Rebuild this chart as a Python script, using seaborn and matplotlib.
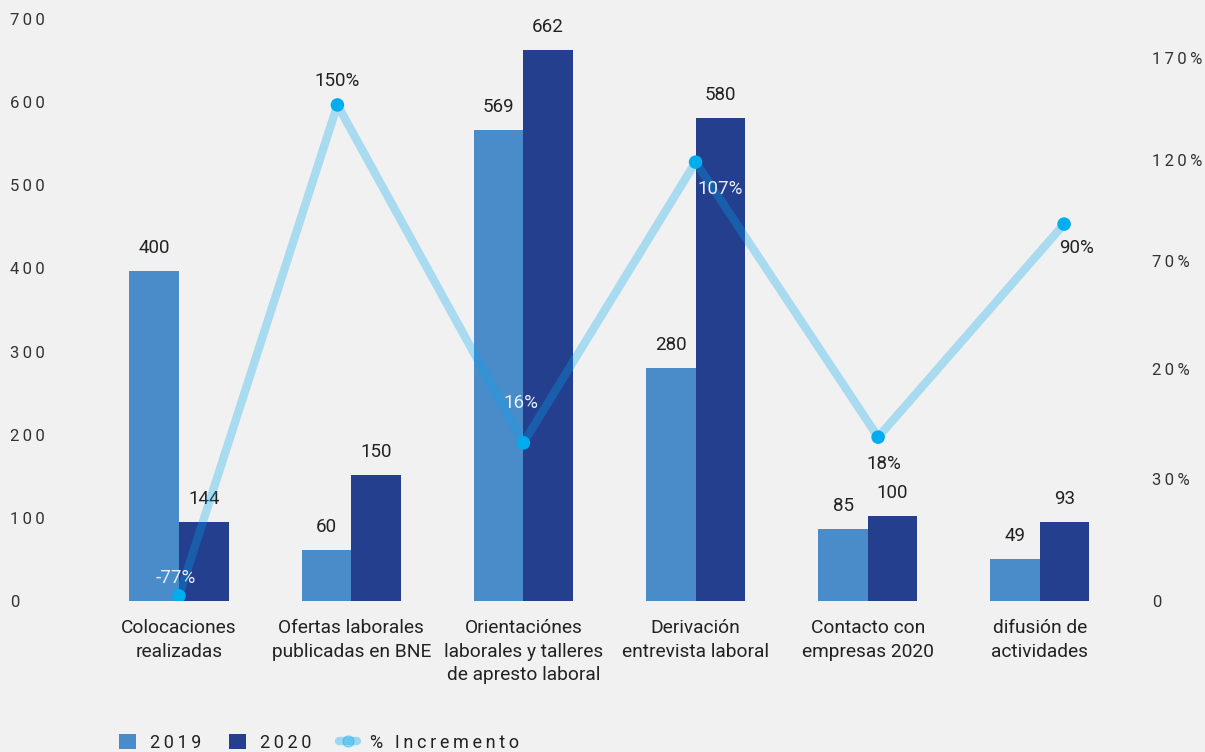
import matplotlib
matplotlib.use("Agg")
import matplotlib.pyplot as plt
from matplotlib.patches import Patch
from matplotlib.lines import Line2D
import seaborn as sns
import pandas as pd

# ---- data ----
categories = [
    "Colocaciones\nrealizadas",
    "Ofertas laborales\npublicadas en BNE",
    "Orientaciónes\nlaborales y talleres\nde apresto laboral",
    "Derivación\nentrevista laboral",
    "Contacto con\nempresas 2020",
    "difusión de\nactividades",
]
years = ["2019", "2020"]
bars_2019 = [397, 61, 567, 280, 87, 51]
bars_2020 = [95, 152, 663, 581, 102, 95]
labels_2019 = ["400", "60", "569", "280", "85", "49"]
labels_2020 = ["144", "150", "662", "580", "100", "93"]

# % increment line (heights in the right axis units, as drawn)
pct_x = [0.0, 0.92, 2.0, 3.0, 4.06, 5.14]
pct_pos = [1.6, 155.3, 49.5, 137.4, 51.3, 118.0]
pct_labels = ["-77%", "150%", "16%", "107%", "18%", "90%"]

left_ticks = [0, 100, 200, 300, 400, 500, 600, 700]
right_ticks = [0, 38.2, 72.6, 106.4, 138.1, 170]
right_tick_labels = ["0", "30%", "20%", "70%", "120%", "170%"]

# ---- style ----
BG = "#f1f1f1"
C19 = "#4a8bca"
C20 = "#243f8e"
LINE = "#00a6f0"
DOT = "#00aeef"
TXT = "#222222"

sns.set_theme(style="white")
plt.rcParams["font.family"] = ["Roboto", "DejaVu Sans"]


def spaced(s, sp="\u2009"):
    return sp.join(s)


fig = plt.figure(figsize=(12.05, 7.52), dpi=100, facecolor=BG)
ax = fig.add_axes([0.0771, 0.2008, 0.8574, 0.7739])
ax.set_facecolor(BG)

df = pd.DataFrame({
    "cat": categories * 2,
    "year": [years[0]] * 6 + [years[1]] * 6,
    "value": bars_2019 + bars_2020,
})
sns.barplot(data=df, x="cat", y="value", hue="year", order=categories,
            hue_order=years, palette={"2019": C19, "2020": C20},
            width=0.575, gap=0, saturation=1, legend=False, linewidth=0,
            ax=ax)

for cont, labs in zip(ax.containers, [labels_2019, labels_2020]):
    ax.bar_label(cont, labels=labs, padding=10, fontsize=13.5, color=TXT)

ax.set_xlim(-0.5, 5.5)
ax.set_ylim(0, 700)
ax.set_yticks(left_ticks)
ax.set_yticklabels([spaced(str(t)) for t in left_ticks], ha="left",
                   fontsize=12, color="#333333")
ax.tick_params(axis="y", length=0, pad=59.5)
ax.tick_params(axis="x", length=0, pad=13, labelsize=13.8, labelcolor=TXT)
for lab in ax.get_xticklabels():
    lab.set_linespacing(1.4)
ax.set_xlabel("")
ax.set_ylabel("")
sns.despine(ax=ax, left=True, bottom=True)

# ---- % increment line on twin axis ----
ax2 = ax.twinx()
sns.lineplot(x=pct_x, y=pct_pos, ax=ax2, color=LINE, alpha=0.3,
             linewidth=6, sort=False, zorder=3)
sns.scatterplot(x=pct_x, y=pct_pos, ax=ax2, color=DOT, s=95,
                edgecolor="none", zorder=4)
ax2.set_ylim(0, 182.2)
ax2.set_yticks(right_ticks)
ax2.set_yticklabels([spaced(t) for t in right_tick_labels], fontsize=12,
                    color="#333333")
ax2.tick_params(axis="y", length=0, pad=18.5)
for s in ax2.spines.values():
    s.set_visible(False)

offsets = [(-2, 13), (0, 17), (-2, 29), (18, -19), (4, -19), (9, -17)]
label_colors = ["#e8eef6", TXT, "#e8eef6", "#e8eef6", TXT, TXT]
for x, y, t, off, c in zip(pct_x, pct_pos, pct_labels, offsets, label_colors):
    ax2.annotate(t, (x, y), xytext=off, textcoords="offset points",
                 ha="center", va="center", fontsize=13.5, color=c, zorder=5)

# ---- legend ----
handles = [
    Patch(facecolor=C19, edgecolor="none"),
    Patch(facecolor=C20, edgecolor="none"),
    Line2D([0], [0], color=LINE, alpha=0.35, linewidth=6, marker="o",
           markersize=8, markerfacecolor=DOT, markeredgecolor=DOT),
]
legend_labels = [spaced(s) for s in ["2019", "2020", "% Incremento"]]
fig.legend(handles, legend_labels,
           loc="lower left", bbox_to_anchor=(0.0855, -0.021), ncol=3,
           frameon=False, fontsize=13, handlelength=0.95, handleheight=0.95,
           handletextpad=0.75, columnspacing=1.55, labelcolor=TXT)

fig.savefig("out.png", dpi=100, facecolor=BG)
